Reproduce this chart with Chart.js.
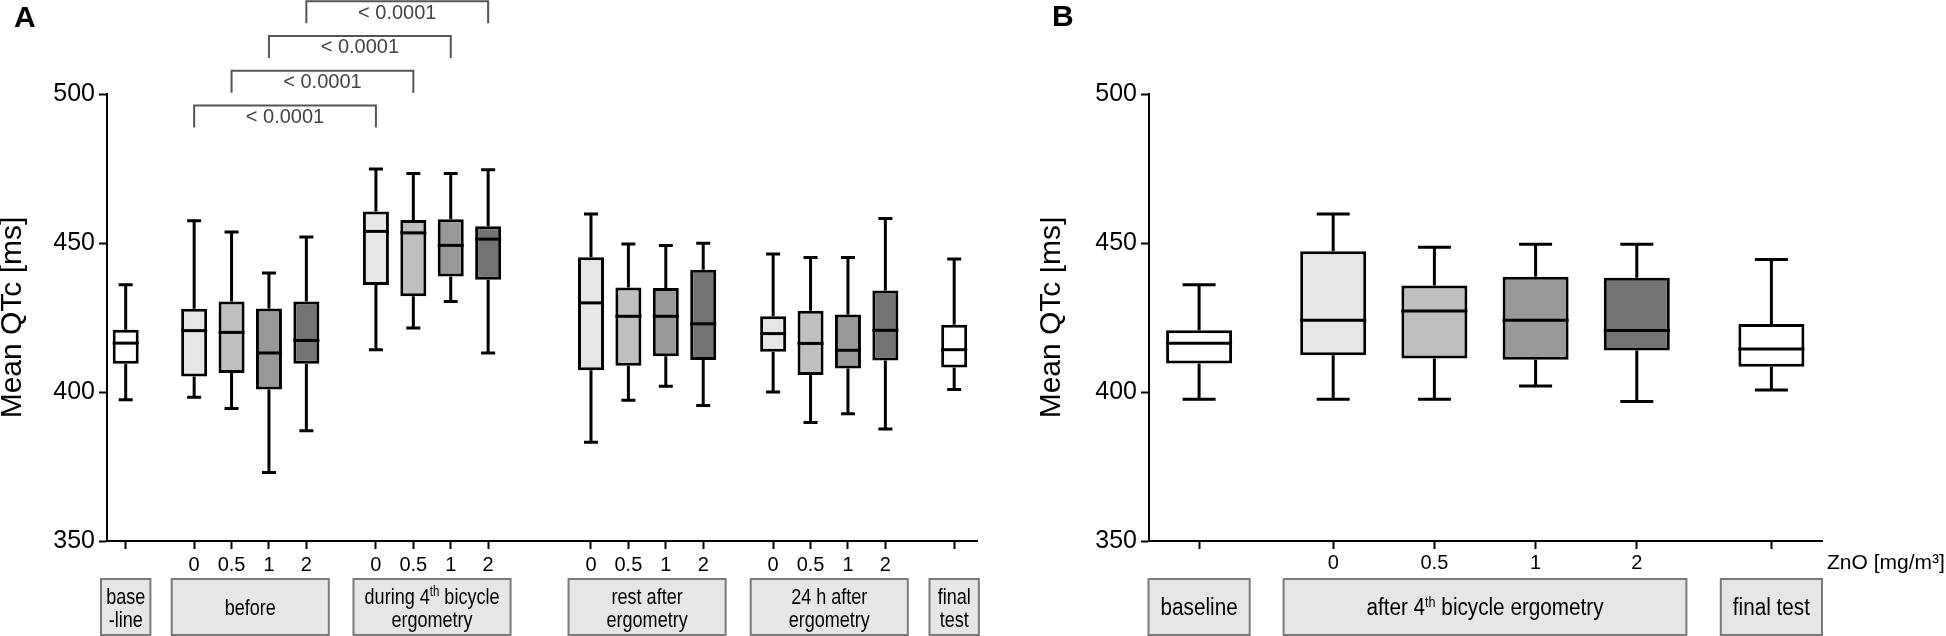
<!DOCTYPE html>
<html><head><meta charset="utf-8">
<script src="https://cdn.jsdelivr.net/npm/chart.js@4.4.1/dist/chart.umd.min.js"></script>
<style>
html,body{margin:0;padding:0;background:#fff;width:1946px;height:636px;overflow:hidden;position:relative;}
canvas{position:absolute;top:0;}
#cA{left:0;} #cB{left:1040px;}
</style></head><body>
<canvas id="cA" width="1000" height="636"></canvas>
<canvas id="cB" width="906" height="636"></canvas>
<script>
// ---------------- DATA ----------------
const yTitle = 'Mean QTc [ms]';
const yTicks = [350, 400, 450, 500];
const doseLabels = ['0', '0.5', '1', '2'];

// Panel A: groups (lines of label text, ^...^ = superscript) and boxes per group
const A_groups = [['base', '-line'], ['before'], ['during 4^th^ bicycle', 'ergometry'], ['rest after', 'ergometry'], ['24 h after', 'ergometry'], ['final', 'test']];
const A_groupSizes = [1, 4, 4, 4, 4, 1];
const A_min = [397.4, 398.2, 394.5, 373.0, 387.0, 414.2, 421.5, 430.4, 413.1, 383.1, 397.2, 401.9, 395.5, 400.0, 389.8, 392.7, 387.6, 400.8];
const A_q1  = [409.5, 405.2, 406.4, 400.8, 409.5, 435.9, 432.1, 438.8, 437.7, 407.3, 408.8, 412.0, 410.7, 413.5, 405.7, 407.9, 410.6, 408.2];
const A_med = [416.4, 420.6, 420.0, 413.1, 417.3, 453.9, 453.4, 449.2, 451.3, 429.9, 425.4, 425.4, 422.9, 419.6, 416.3, 414.0, 420.7, 414.2];
const A_q3  = [420.9, 427.9, 430.4, 428.0, 430.4, 460.6, 457.7, 458.0, 455.6, 445.2, 435.1, 434.9, 441.0, 425.4, 427.3, 426.0, 434.1, 422.6];
const A_max = [436.0, 457.5, 453.7, 439.9, 452.0, 474.8, 473.3, 473.3, 474.6, 459.7, 449.7, 449.2, 449.9, 446.3, 445.1, 445.1, 458.2, 444.6];
const A_sigPairs = [[1, 5], [2, 6], [3, 7], [4, 8]];
const A_sigLevels = [496.1, 507.8, 519.5, 531.1];
const A_sigLabel = '< 0.0001';

// Panel B
const B_groups = [['baseline'], ['after 4^th^ bicycle ergometry'], ['final test']];
const B_groupSizes = [1, 4, 1];
const B_min = [397.6, 397.6, 397.6, 402.0, 396.8, 400.7];
const B_q1  = [409.6, 412.3, 411.2, 410.8, 413.9, 408.5];
const B_med = [416.4, 424.1, 427.2, 424.1, 420.6, 414.4];
const B_q3  = [420.7, 447.2, 435.7, 438.7, 438.3, 422.8];
const B_max = [436.0, 459.7, 448.6, 449.6, 449.6, 444.5];
const B_xTitle = 'ZnO [mg/m\u00B3]';

// ---------------- STYLE / LAYOUT ----------------
const FAM = '"Liberation Sans", Arial, Helvetica, sans-serif';
const doseFills = ['#e6e6e6', '#bfbfbf', '#989898', '#737373'];
Chart.defaults.font.family = FAM;
Chart.defaults.color = '#000';

const layoutA = {
  letter: 'A', letterX: 14, letterY: 27,
  left: 107, right: 23, top: 94, xH: 95, start: [0.5, 2.33, 7.19, 12.94, 17.81, 22.65], xMax: 23.26,
  barW: 26, cap: 14, lw: 3, xFont: 20, xPad: 4, yFont: 25, titleFont: 30, titlePad: -2.5,
  gPadMulti: 0.6, gPadSingle: 0.66, gTop: 579, gBot: 635, gFont: 22, gScale: 0.82, gLines: [596, 619], gSingle: 607
};
const layoutB = {
  letter: 'B', letterX: 12, letterY: 26,
  left: 109, right: 124, top: 94, xH: 95, start: [0.495, 1.82, 6.15], xMax: 6.65,
  barW: 66, cap: 33, lw: 3, xFont: 20, xPad: 2, yFont: 25, titleFont: 30, titlePad: -3.5,
  gPadMulti: 0.49, gPadSingle: 0.5, gTop: 579, gBot: 635, gFont: 23, gScale: 0.9, gLines: [607, 607], gSingle: 607
};

function drawRich(ctx, line, cx, cy, size, sx) {
  const parts = line.split('^');
  const fonts = parts.map((_, k) => (k % 2 ? Math.round(size * 0.62) : size) + 'px ' + FAM);
  const widths = parts.map((p, k) => { ctx.font = fonts[k]; return ctx.measureText(p).width; });
  const total = widths.reduce((a, b) => a + b, 0);
  ctx.save();
  ctx.translate(cx, cy + size * 0.36);
  ctx.scale(sx, 1);
  ctx.textAlign = 'left'; ctx.textBaseline = 'alphabetic'; ctx.fillStyle = '#000';
  let xx = -total / 2;
  parts.forEach((p, k) => {
    ctx.font = fonts[k];
    ctx.fillText(p, xx, k % 2 ? -size * 0.36 : 0);
    xx += widths[k];
  });
  ctx.restore();
}

function makeChart(id, L, D) {
  const pos = [], tickLabels = [], fills = [];
  D.sizes.forEach((n, g) => {
    for (let k = 0; k < n; k++) {
      pos.push(L.start[g] + k);
      tickLabels.push(n > 1 ? doseLabels[k] : '');
      fills.push(n > 1 ? doseFills[k] : '#ffffff');
    }
  });
  const data = pos.map((p, i) => ({ x: p, y: [D.q1[i], D.q3[i]] }));

  const boxPlugin = {
    id: 'boxplot_' + id,
    beforeDatasetsDraw(chart) {
      const { ctx, scales: { x, y } } = chart;
      ctx.save();
      ctx.strokeStyle = '#000'; ctx.lineWidth = L.lw; ctx.lineCap = 'butt';
      pos.forEach((p, i) => {
        const px = x.getPixelForValue(p);
        const yMax = y.getPixelForValue(D.max[i]), yMin = y.getPixelForValue(D.min[i]);
        const yQ3 = y.getPixelForValue(D.q3[i]), yQ1 = y.getPixelForValue(D.q1[i]);
        ctx.beginPath();
        ctx.moveTo(px, yQ3); ctx.lineTo(px, yMax);
        ctx.moveTo(px, yQ1); ctx.lineTo(px, yMin);
        ctx.moveTo(px - L.cap / 2, yMax); ctx.lineTo(px + L.cap / 2, yMax);
        ctx.moveTo(px - L.cap / 2, yMin); ctx.lineTo(px + L.cap / 2, yMin);
        ctx.stroke();
      });
      ctx.restore();
    },
    afterDatasetsDraw(chart) {
      const { ctx, scales: { x, y } } = chart;
      ctx.save();
      ctx.strokeStyle = '#000'; ctx.lineWidth = L.lw;
      pos.forEach((p, i) => {
        const px = x.getPixelForValue(p);
        const ym = y.getPixelForValue(D.med[i]);
        ctx.beginPath();
        ctx.moveTo(px - L.barW / 2, ym); ctx.lineTo(px + L.barW / 2, ym);
        ctx.stroke();
      });
      ctx.restore();
    },
    afterDraw(chart) {
      const { ctx, scales: { x, y } } = chart;
      ctx.save();
      // group label boxes
      let idx = 0;
      D.sizes.forEach((n, g) => {
        const p0 = pos[idx], p1 = pos[idx + n - 1]; idx += n;
        const pad = n > 1 ? L.gPadMulti : L.gPadSingle;
        const x0 = x.getPixelForValue(p0 - pad), x1 = x.getPixelForValue(p1 + pad);
        ctx.fillStyle = '#e6e6e6';
        ctx.fillRect(x0, L.gTop, x1 - x0, L.gBot - L.gTop);
        ctx.strokeStyle = '#7a7a7a'; ctx.lineWidth = 2;
        ctx.strokeRect(x0, L.gTop, x1 - x0, L.gBot - L.gTop);
        const lines = D.groups[g];
        const cx = (x0 + x1) / 2;
        lines.forEach((ln, j) => {
          const cy = lines.length === 1 ? L.gSingle : L.gLines[j];
          drawRich(ctx, ln, cx, cy, L.gFont, L.gScale);
        });
      });
      // significance brackets
      if (D.sigPairs) {
        ctx.strokeStyle = '#555'; ctx.lineWidth = 2; ctx.fillStyle = '#444';
        D.sigPairs.forEach((pr, k) => {
          const xa = x.getPixelForValue(pos[pr[0]]), xb = x.getPixelForValue(pos[pr[1]]);
          const yl = y.getPixelForValue(D.sigLevels[k]);
          ctx.beginPath();
          ctx.moveTo(xa, yl + 22); ctx.lineTo(xa, yl); ctx.lineTo(xb, yl); ctx.lineTo(xb, yl + 22);
          ctx.stroke();
          ctx.font = '20px ' + FAM; ctx.textAlign = 'center'; ctx.textBaseline = 'middle';
          ctx.fillText(D.sigLabel, (xa + xb) / 2, yl + 12);
        });
      }
      // panel letter
      ctx.fillStyle = '#000';
      ctx.font = 'bold 30px ' + FAM; ctx.textAlign = 'left'; ctx.textBaseline = 'alphabetic';
      ctx.fillText(L.letter, L.letterX, L.letterY);
      // extra x title
      if (D.xTitle) {
        ctx.font = '21px ' + FAM; ctx.textBaseline = 'middle'; ctx.textAlign = 'left';
        ctx.fillText(D.xTitle, chart.chartArea.right + 5, 563);
      }
      ctx.restore();
    }
  };

  return new Chart(document.getElementById(id), {
    type: 'bar',
    data: { datasets: [{ data, backgroundColor: fills, borderColor: '#000', borderWidth: L.lw,
      borderSkipped: false, barThickness: L.barW, inflateAmount: 0, grouped: false }] },
    options: {
      responsive: false, animation: false, devicePixelRatio: 1, events: [],
      layout: { padding: { left: 0, right: L.right, top: L.top, bottom: 0 } },
      plugins: { legend: { display: false }, tooltip: { enabled: false } },
      scales: {
        x: {
          type: 'linear', min: 0, max: L.xMax, offset: false,
          grid: { display: true, offset: false, drawOnChartArea: false, drawTicks: true, tickLength: 8, tickWidth: 2, tickColor: '#000' },
          border: { display: true, color: '#000', width: 2 },
          ticks: { autoSkip: false, maxRotation: 0, minRotation: 0, padding: L.xPad, font: { size: L.xFont }, color: '#000',
            callback: (v, i) => tickLabels[i] },
          afterBuildTicks: (s) => { s.ticks = pos.map(v => ({ value: v })); },
          afterFit: (s) => { s.height = L.xH; }
        },
        y: {
          type: 'linear', min: 350, max: 500,
          afterBuildTicks: (s) => { s.ticks = yTicks.map(v => ({ value: v })); },
          grid: { display: true, drawOnChartArea: false, drawTicks: true, tickLength: 8, tickWidth: 2, tickColor: '#000' },
          border: { display: true, color: '#000', width: 2 },
          ticks: { padding: 4, font: { size: L.yFont }, color: '#000' },
          title: { display: true, text: yTitle, color: '#000', font: { size: L.titleFont, lineHeight: 1 }, padding: { top: L.titlePad, bottom: 0 } },
          afterFit: (s) => { s.width = L.left; }
        }
      }
    },
    plugins: [boxPlugin]
  });
}

makeChart('cA', layoutA, { groups: A_groups, sizes: A_groupSizes, min: A_min, q1: A_q1, med: A_med, q3: A_q3, max: A_max,
  sigPairs: A_sigPairs, sigLevels: A_sigLevels, sigLabel: A_sigLabel });
makeChart('cB', layoutB, { groups: B_groups, sizes: B_groupSizes, min: B_min, q1: B_q1, med: B_med, q3: B_q3, max: B_max,
  xTitle: B_xTitle });
</script>
</body></html>
